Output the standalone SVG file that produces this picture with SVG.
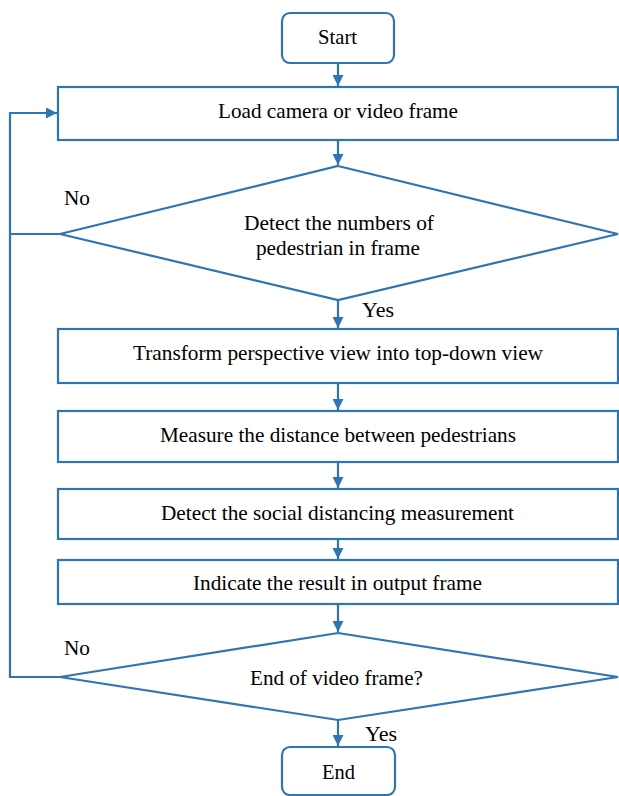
<svg xmlns="http://www.w3.org/2000/svg" width="619" height="796" viewBox="0 0 619 796">
<style>
text{font-family:"Liberation Serif","Times New Roman",serif;font-size:22px;fill:#000}
.n{fill:#fff;stroke:#2E75B6;stroke-width:2.2}
.c{fill:none;stroke:#2E75B6;stroke-width:2.2}
</style>
<defs>
<marker id="ah" viewBox="0 0 10 10" refX="10" refY="5" markerWidth="5" markerHeight="5" orient="auto" markerUnits="strokeWidth">
<path d="M0,0 L10,5 L0,10 z" fill="#2E75B6"/>
</marker>
</defs>
<rect width="619" height="796" fill="#fff"/>
<g id="connectors">
<line class="c" x1="338" y1="63" x2="338" y2="86" marker-end="url(#ah)"/>
<line class="c" x1="338" y1="140" x2="338" y2="165" marker-end="url(#ah)"/>
<line class="c" x1="338" y1="300" x2="338" y2="328" marker-end="url(#ah)"/>
<line class="c" x1="338" y1="383" x2="338" y2="410" marker-end="url(#ah)"/>
<line class="c" x1="338" y1="462" x2="338" y2="488" marker-end="url(#ah)"/>
<line class="c" x1="338" y1="539" x2="338" y2="559" marker-end="url(#ah)"/>
<line class="c" x1="338" y1="604" x2="338" y2="632" marker-end="url(#ah)"/>
<line class="c" x1="338" y1="720" x2="338" y2="746" marker-end="url(#ah)"/>
<polyline class="c" points="60,234 10,234 10,113 57,113" marker-end="url(#ah)"/>
<polyline class="c" points="60,677 10,677 10,234"/>
<text x="64" y="205" textLength="26" lengthAdjust="spacingAndGlyphs">No</text>
<text x="362" y="317" textLength="32" lengthAdjust="spacingAndGlyphs">Yes</text>
<text x="64" y="655" textLength="26" lengthAdjust="spacingAndGlyphs">No</text>
<text x="365" y="741" textLength="32" lengthAdjust="spacingAndGlyphs">Yes</text>
</g>
<g id="start">
<rect class="n" x="282" y="13" width="112" height="50" rx="8"/>
<text x="318" y="44" textLength="39" lengthAdjust="spacingAndGlyphs">Start</text>
</g>
<g id="load">
<rect class="n" x="58" y="87" width="560" height="53"/>
<text x="218" y="118" textLength="240" lengthAdjust="spacingAndGlyphs">Load camera or video frame</text>
</g>
<g id="detect-num">
<polygon class="n" points="338,166 618,234 338,300 60,234"/>
<text x="244" y="230" textLength="190" lengthAdjust="spacingAndGlyphs">Detect the numbers of</text>
<text x="256" y="255" textLength="164" lengthAdjust="spacingAndGlyphs">pedestrian in frame</text>
</g>
<g id="transform">
<rect class="n" x="58" y="329" width="560" height="54"/>
<text x="133" y="360" textLength="410" lengthAdjust="spacingAndGlyphs">Transform perspective view into top-down view</text>
</g>
<g id="measure">
<rect class="n" x="58" y="411" width="560" height="51"/>
<text x="160" y="442" textLength="356" lengthAdjust="spacingAndGlyphs">Measure the distance between pedestrians</text>
</g>
<g id="detect-social">
<rect class="n" x="58" y="489" width="560" height="50"/>
<text x="161" y="520" textLength="353" lengthAdjust="spacingAndGlyphs">Detect the social distancing measurement</text>
</g>
<g id="indicate">
<rect class="n" x="58" y="560" width="560" height="44"/>
<text x="193" y="590" textLength="289" lengthAdjust="spacingAndGlyphs">Indicate the result in output frame</text>
</g>
<g id="end-check">
<polygon class="n" points="338,633 618,677 338,720 60,677"/>
<text x="250" y="685" textLength="173" lengthAdjust="spacingAndGlyphs">End of video frame?</text>
</g>
<g id="end">
<rect class="n" x="282" y="747" width="113" height="48" rx="8"/>
<text x="322" y="779" textLength="33" lengthAdjust="spacingAndGlyphs">End</text>
</g>
</svg>
